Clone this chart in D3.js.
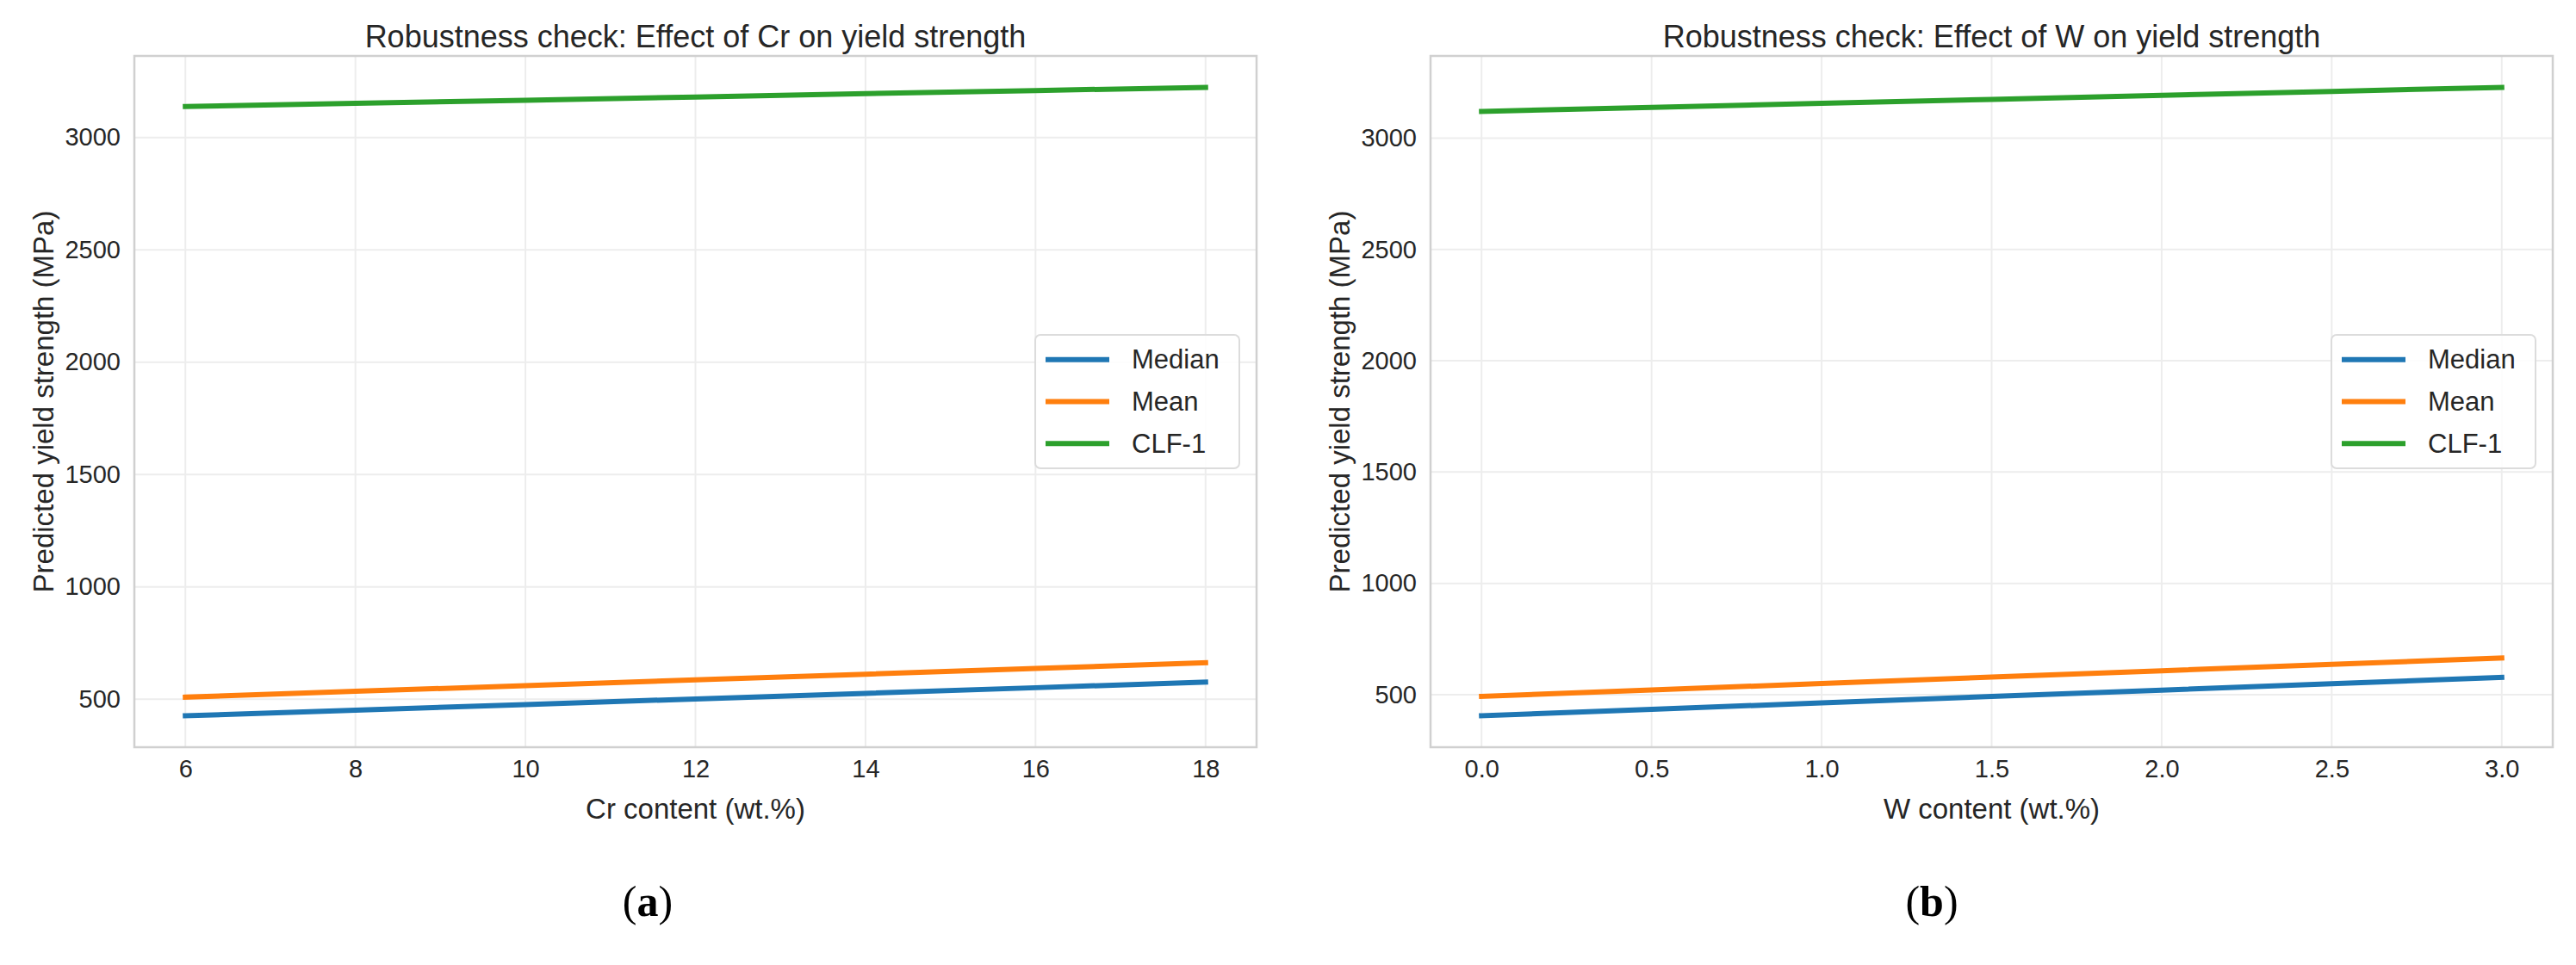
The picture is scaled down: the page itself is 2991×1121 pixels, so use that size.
<!DOCTYPE html>
<html>
<head>
<meta charset="utf-8">
<script src="https://cdn.jsdelivr.net/npm/d3@7"></script>
<style>
  html, body { margin: 0; padding: 0; background: #ffffff; }
  svg { display: block; }
</style>
</head>
<body>
<svg id="chart" width="2991" height="1121"></svg>
<script>
// ---------- data ----------
const crX = [6, 8, 10, 12, 14, 16, 18];
const crMedian = [426, 451, 476, 501, 526, 551, 576];
const crMean = [509, 535, 560, 586, 611, 637, 662];
const crCLF1 = [3138, 3152, 3166, 3180, 3195, 3209, 3223];

const wX = [0, 0.5, 1.0, 1.5, 2.0, 2.5, 3.0];
const wMedian = [405, 434, 463, 492, 520, 549, 578];
const wMean = [492, 521, 550, 579, 607, 636, 665];
const wCLF1 = [3120, 3138, 3156, 3174, 3192, 3210, 3228];

const seriesNames = ["Median", "Mean", "CLF-1"];
const seriesColors = ["#1f77b4", "#ff7f0e", "#2ca02c"];

const crTicks = [6, 8, 10, 12, 14, 16, 18];
const wTicks = [0, 0.5, 1.0, 1.5, 2.0, 2.5, 3.0];
const yTicks = [500, 1000, 1500, 2000, 2500, 3000];

const titles = ["Robustness check: Effect of Cr on yield strength",
                "Robustness check: Effect of W on yield strength"];
const xLabels = ["Cr content (wt.%)", "W content (wt.%)"];
const yLabel = "Predicted yield strength (MPa)";
const panelTags = ["a", "b"];

// ---------- layout ----------
const svg = d3.select("#chart");
const FONT = "'Liberation Sans', Arial, Helvetica, sans-serif";
const TXT = "#262626";
const panels = [
  { left: 156, right: 1459, top: 65, bottom: 868, tagX: 752,
    x: crX, ys: [crMedian, crMean, crCLF1], ticks: crTicks, fmt: d => String(d) },
  { left: 1661, right: 2964, top: 65, bottom: 868, tagX: 2243,
    x: wX, ys: [wMedian, wMean, wCLF1], ticks: wTicks, fmt: d3.format(".1f") }
];

panels.forEach((p, i) => {
  const g = svg.append("g");
  const xExt = d3.extent(p.x);
  const xPad = (xExt[1] - xExt[0]) * 0.05;
  const allY = p.ys.flat();
  const yExt = d3.extent(allY);
  const yPad = (yExt[1] - yExt[0]) * 0.05;
  const x = d3.scaleLinear().domain([xExt[0] - xPad, xExt[1] + xPad]).range([p.left, p.right]);
  const y = d3.scaleLinear().domain([yExt[0] - yPad, yExt[1] + yPad]).range([p.bottom, p.top]);

  // grid
  g.append("g").selectAll("line").data(p.ticks).join("line")
    .attr("x1", d => x(d)).attr("x2", d => x(d))
    .attr("y1", p.top).attr("y2", p.bottom)
    .attr("stroke", "#ededed").attr("stroke-width", 2);
  g.append("g").selectAll("line").data(yTicks).join("line")
    .attr("x1", p.left).attr("x2", p.right)
    .attr("y1", d => y(d)).attr("y2", d => y(d))
    .attr("stroke", "#ededed").attr("stroke-width", 2);

  // frame
  g.append("rect").attr("x", p.left).attr("y", p.top)
    .attr("width", p.right - p.left).attr("height", p.bottom - p.top)
    .attr("fill", "none").attr("stroke", "#d0d0d0").attr("stroke-width", 2.5);

  // tick labels via axes (no tick marks/domain)
  const xAxis = d3.axisBottom(x).tickValues(p.ticks).tickFormat(p.fmt).tickSize(0).tickPadding(14);
  const xa = g.append("g").attr("transform", `translate(0,${p.bottom})`).call(xAxis);
  xa.select(".domain").remove();
  xa.selectAll("text").attr("font-family", FONT).attr("font-size", 29).attr("fill", TXT);

  const yAxis = d3.axisLeft(y).tickValues(yTicks).tickFormat(d => String(d)).tickSize(0).tickPadding(16);
  const ya = g.append("g").attr("transform", `translate(${p.left},0)`).call(yAxis);
  ya.select(".domain").remove();
  ya.selectAll("text").attr("font-family", FONT).attr("font-size", 29).attr("fill", TXT);

  // lines
  const line = d3.line().x((d, k) => x(p.x[k])).y(d => y(d));
  p.ys.forEach((s, k) => {
    g.append("path").datum(s).attr("d", line)
      .attr("fill", "none").attr("stroke", seriesColors[k])
      .attr("stroke-width", 6).attr("stroke-linecap", "square");
  });

  // title
  const cx = (p.left + p.right) / 2;
  g.append("text").attr("x", cx).attr("y", 55).attr("text-anchor", "middle")
    .attr("font-family", FONT).attr("font-size", 36).attr("fill", TXT).text(titles[i]);
  // x label
  g.append("text").attr("x", cx).attr("y", 951).attr("text-anchor", "middle")
    .attr("font-family", FONT).attr("font-size", 33).attr("fill", TXT).text(xLabels[i]);
  // y label
  const cy = (p.top + p.bottom) / 2;
  g.append("text").attr("transform", `translate(${p.left - 106},${cy}) rotate(-90)`)
    .attr("text-anchor", "middle").attr("dominant-baseline", "central")
    .attr("font-family", FONT).attr("font-size", 33).attr("fill", TXT).text(yLabel);

  // legend (center right)
  const lw = 237, lh = 155;
  const lx = p.right - 20 - lw, ly = cy - lh / 2;
  const lg = g.append("g").attr("transform", `translate(${lx},${ly})`);
  lg.append("rect").attr("width", lw).attr("height", lh).attr("rx", 6)
    .attr("fill", "#ffffff").attr("fill-opacity", 0.85)
    .attr("stroke", "#dcdcdc").attr("stroke-width", 2);
  seriesNames.forEach((nm, k) => {
    const ry = lh / 2 + (k - 1) * 48.7;
    lg.append("line").attr("x1", 12).attr("x2", 86).attr("y1", ry).attr("y2", ry)
      .attr("stroke", seriesColors[k]).attr("stroke-width", 6);
    lg.append("text").attr("x", 112).attr("y", ry).attr("dominant-baseline", "central")
      .attr("font-family", FONT).attr("font-size", 31).attr("fill", TXT).text(nm);
  });

  // panel tag
  const tag = svg.append("text").attr("x", p.tagX).attr("y", 1064).attr("text-anchor", "middle")
    .attr("font-family", "'Liberation Serif', 'DejaVu Serif', serif").attr("font-size", 50).attr("fill", "#000");
  tag.append("tspan").text("(");
  tag.append("tspan").attr("font-weight", "bold").text(panelTags[i]);
  tag.append("tspan").text(")");
});
</script>
</body>
</html>
